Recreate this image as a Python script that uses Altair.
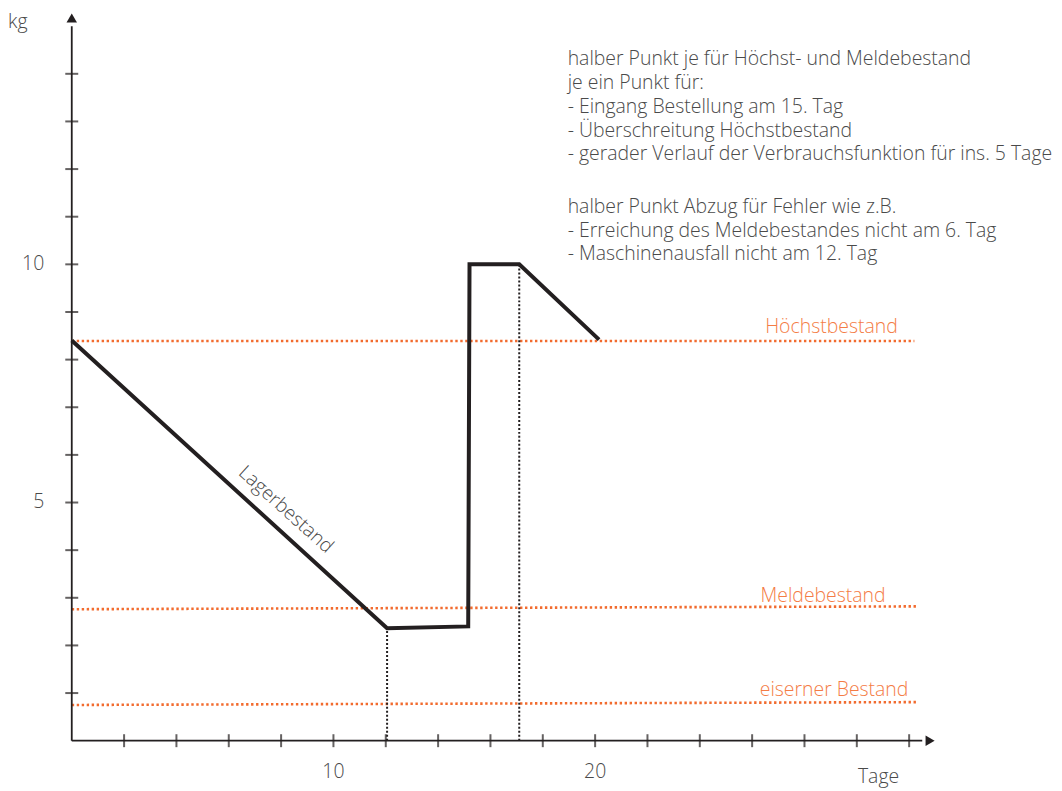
import altair as alt
import pandas as pd

# Lagerbestand (stock) curve
days = [0, 12.05, 15.15, 15.2, 17.1, 20.15]
stock = [8.4, 2.36, 2.4, 10.0, 10.0, 8.42]

# reference levels
level_names = ["Höchstbestand", "Meldebestand", "eiserner Bestand"]
level_y_start = [8.39, 2.76, 0.75]
level_y_end = [8.39, 2.82, 0.81]
level_x_end = [32.2, 32.3, 32.35]
level_label_x = [29.03, 28.71, 29.13]
level_label_y = [8.56, 2.91, 0.94]

# dotted vertical guides
guide_x = [12.05, 17.1]
guide_top = [2.36, 10.0]

# axes
x_ticks = list(range(2, 33, 2))
y_ticks = list(range(1, 15))
x_tick_labels = [10, 20]
y_tick_labels = [5, 10]
x_max_axis = 32.5
y_max_axis = 15.0

note_block_1 = [
    "halber Punkt je für Höchst- und Meldebestand",
    "je ein Punkt für:",
    "- Eingang Bestellung am 15. Tag",
    "- Überschreitung Höchstbestand",
    "- gerader Verlauf der Verbrauchsfunktion für ins. 5 Tage",
]
note_block_2 = [
    "halber Punkt Abzug für Fehler wie z.B.",
    "- Erreichung des Meldebestandes nicht am 6. Tag",
    "- Maschinenausfall nicht am 12. Tag",
]
note_x = [18.95, 18.95]
note_y = [14.49, 11.39]

FONT = "Open Sans"
FS = 19.5
DARK = "#231f20"
GREY = "#4a4a4a"
ORANGE = "#f26b2e"
ORANGE_TXT = "#f47c45"

xs = alt.Scale(domain=[0, 33.5], nice=False, zero=False)
ys = alt.Scale(domain=[0, 15.35], nice=False, zero=False)

def X(field="x"):
    return alt.X(f"{field}:Q", scale=xs, axis=None)

def Y(field="y"):
    return alt.Y(f"{field}:Q", scale=ys, axis=None)

# axis lines
axes_df = pd.DataFrame({"x": [0, 0], "y": [0, 0], "x2": [x_max_axis, 0], "y2": [0, y_max_axis]})
axes = alt.Chart(axes_df).mark_rule(color=DARK, strokeWidth=1.8).encode(
    x=X(), y=Y(), x2="x2:Q", y2="y2:Q")

xt = alt.Chart(pd.DataFrame({"x": x_ticks, "y": [0] * len(x_ticks)})).mark_tick(
    orient="vertical", size=13, thickness=2, color=DARK).encode(x=X(), y=Y())
yt = alt.Chart(pd.DataFrame({"x": [0] * len(y_ticks), "y": y_ticks})).mark_tick(
    orient="horizontal", size=13, thickness=2, color=DARK).encode(x=X(), y=Y())

arrows_df = pd.DataFrame({"x": [32.8, 0], "y": [0, 15.17], "shape": ["triangle-right", "triangle-up"]})
arrows = alt.Chart(arrows_df).mark_point(filled=True, size=110, color=DARK, opacity=1).encode(
    x=X(), y=Y(), shape=alt.Shape("shape:N", scale=None, legend=None))

xl = alt.Chart(pd.DataFrame({"x": x_tick_labels, "y": [-0.65] * 2, "t": [str(v) for v in x_tick_labels]})).mark_text(
    font=FONT, fontSize=FS, fontWeight=300, color=GREY, baseline="middle").encode(x=X(), y=Y(), text="t:N")
yl = alt.Chart(pd.DataFrame({"x": [-1.05] * 2, "y": y_tick_labels, "t": [str(v) for v in y_tick_labels]})).mark_text(
    font=FONT, fontSize=FS, fontWeight=300, color=GREY, baseline="middle", align="right").encode(x=X(), y=Y(), text="t:N")
titles = alt.Chart(pd.DataFrame({"x": [-2.06, 30.83], "y": [14.97, -0.88], "t": ["kg", "Tage"]})).mark_text(
    font=FONT, fontSize=FS, fontWeight=300, color=GREY, baseline="alphabetic").encode(x=X(), y=Y(), text="t:N")

# levels
lv_rows = []
for n, y0, y1, xe in zip(level_names, level_y_start, level_y_end, level_x_end):
    lv_rows.append({"name": n, "x": 0, "y": y0})
    lv_rows.append({"name": n, "x": xe, "y": y1})
levels = alt.Chart(pd.DataFrame(lv_rows)).mark_line(
    color=ORANGE, strokeWidth=2.6, strokeDash=[2.4, 2.6]).encode(x=X(), y=Y(), detail="name:N")
level_labels = alt.Chart(pd.DataFrame({"x": level_label_x, "y": level_label_y, "t": level_names})).mark_text(
    font=FONT, fontSize=FS, fontWeight=300, color=ORANGE_TXT, baseline="alphabetic").encode(x=X(), y=Y(), text="t:N")

guides = alt.Chart(pd.DataFrame({"x": guide_x, "y": [0, 0], "y2": guide_top})).mark_rule(
    color=DARK, strokeWidth=2, strokeDash=[2, 2]).encode(x=X(), y=Y(), y2="y2:Q")

curve = alt.Chart(pd.DataFrame({"x": days, "y": stock, "o": list(range(len(days)))})).mark_line(
    color=DARK, strokeWidth=4, strokeJoin="miter").encode(x=X(), y=Y(), order="o:Q")

curve_label = alt.Chart(pd.DataFrame({"x": [8.18], "y": [4.85], "t": ["Lagerbestand"]})).mark_text(
    font=FONT, fontSize=FS, fontWeight=300, color=GREY, angle=42, baseline="middle").encode(x=X(), y=Y(), text="t:N")

note = alt.Chart(pd.DataFrame({"x": note_x, "y": note_y,
                               "t": ["\n".join(note_block_1), "\n".join(note_block_2)]})).mark_text(
    font=FONT, fontSize=FS, fontWeight=300, color=GREY, align="left", baseline="top",
    lineBreak="\n", lineHeight=23.8).encode(x=X(), y=Y(), text="t:N")

chart = alt.layer(levels, guides, axes, xt, yt, arrows, curve, xl, yl, titles, level_labels, curve_label, note).properties(
    width=880, height=734,
    padding={"left": 64, "top": 0, "right": 106, "bottom": 50},
    autosize=alt.AutoSizeParams(type="none"),
).configure(background="white").configure_view(stroke="transparent", strokeWidth=0)

chart.save("out.html", embed_options={"renderer": "svg", "actions": False})
